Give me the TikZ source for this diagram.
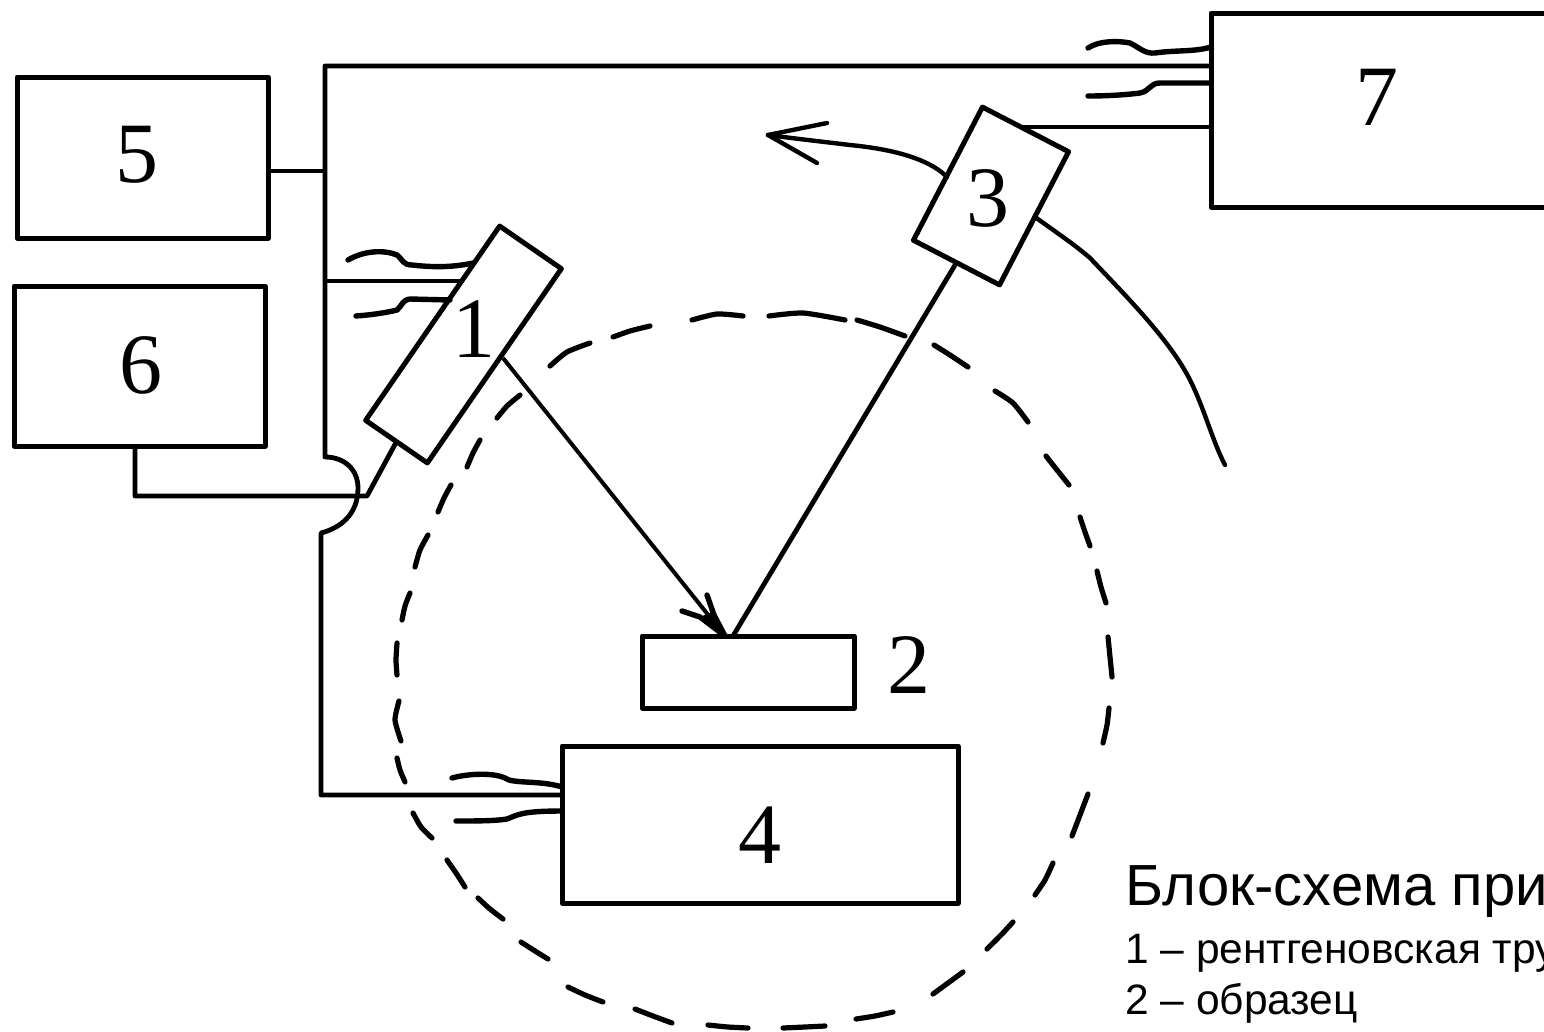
\documentclass[tikz,border=0pt]{standalone}
\usepackage{fontspec}
\setmainfont{Liberation Serif}
\newfontfamily\capfont{Liberation Sans}
\tikzset{
  box/.style={draw=black,line width=5pt,fill=none,rectangle,inner sep=0pt,outer sep=0pt,line join=round},
  wire/.style={draw=black,line width=4.8pt,line join=round},
  thin wire/.style={draw=black,line width=4pt,line join=round},
  curl/.style={draw=black,line width=5.4pt,line cap=round,line join=round},
  sweep/.style={draw=black,line width=4.4pt,line cap=round,line join=round},
  num/.style={inner sep=0pt,font=\fontsize{86}{90}\selectfont,text=black},
  circdash/.style={draw=black,line width=5.2pt,line cap=round,line join=round},
  bigcap/.style={inner sep=0pt,anchor=base west,font=\capfont\fontsize{58}{62}\selectfont},
  smallcap/.style={inner sep=0pt,anchor=base west,font=\capfont\fontsize{42.5}{46}\selectfont}
}
\begin{document}
\begin{tikzpicture}[x=1pt,y=-1pt]
\useasboundingbox (0,0) rectangle (1544,1031);
\clip (0,0) rectangle (1544,1031);
% boxes
\node[box,minimum width=251pt,minimum height=161pt] (b5) at (142.5,157.5) {};
\node[box,minimum width=251pt,minimum height=160pt] (b6) at (139.5,366) {};
\node[box,minimum width=400pt,minimum height=194pt] (b7) at (1411,110) {};
\node[box,minimum width=396pt,minimum height=157pt] (b4) at (760,824.5) {};
\node[box,minimum width=212pt,minimum height=72pt] (b2) at (748,672) {};
\node[box,minimum width=236pt,minimum height=75pt,rotate=55.4] (b1) at (463.5,344.5) {};
\node[box,minimum width=150pt,minimum height=97pt,rotate=62.6] (b3) at (991,196) {};
% labels
\node[num] (l5) at (137,155) {5};
\node[num] (l6) at (141,365) {6};
\node[num] (l7) at (1377,97) {7};
\node[num] (l4) at (760,835) {4};
\node[num] (l2) at (909,665) {2};
\node[num] (l1) at (474,329) {1};
\node[num] (l3) at (988,198) {3};
% dashed circle, dash by dash as drawn by hand
\foreach \pts in {
 {(397,675) (396,660) (397,643)},
 {(402,620) (405,606) (410,593)},
 {(415,567) (420,550) (428,535)},
 {(438,512) (444,498) (451,485)},
 {(467,467) (473,453) (480,440)},
 {(497,418) (507,406) (520,395)},
 {(550,366) (567,352) (590,343)},
 {(613,337) (630,331) (650,326)},
 {(692,320) (717,314) (743,316)},
 {(769,316) (803,313) (845,320)},
 {(857,320) (880,327) (905,336)},
 {(934,345) (950,355) (968,367)},
 {(995,391) (1013,403) (1028,422)},
 {(1046,456) (1057,470) (1069,485)},
 {(1080,517) (1085,532) (1090,546)},
 {(1097,571) (1101,587) (1106,603)},
 {(1108,637) (1110,657) (1112,677)},
 {(1109,708) (1107,725) (1103,743)},
 {(1088,794) (1080,815) (1072,836)},
 {(1053,863) (1045,880) (1035,895)},
 {(1013,922) (1001,935) (987,949)},
 {(963,972) (948,983) (933,994)},
 {(893,1012) (875,1016) (856,1019)},
 {(825,1026) (805,1027) (783,1028)},
 {(748,1028) (728,1027) (708,1025)},
 {(672,1023) (653,1016) (635,1009)},
 {(603,1002) (585,995) (568,987)},
 {(548,959) (535,951) (521,942)},
 {(503,919) (490,909) (478,898)},
 {(465,887) (456,873) (447,860)},
 {(432,838) (421,827) (413,813)},
 {(405,782) (400,770) (397,758)},
 {(401,741) (395,720) (399,701)}}
{ \draw[circdash] plot[smooth,tension=0.4] coordinates {\pts}; }
% helper coordinates
\coordinate (busT) at (325,66);
\coordinate (j5) at (325,171);
\coordinate (j1) at (325,281);
\coordinate (bumpA) at (325,457);
\coordinate (bumpB) at (321,533);
\coordinate (busB) at (321,795);
\coordinate (k6) at (135,496);
\coordinate (k1) at (367,496);
\coordinate (a3) at (1023,127);
\coordinate (e1) at (503,358);
\coordinate (hit) at (725,636);
\coordinate (hit3) at (733,636);
% bus
\draw[wire] (b7.west |- busT) -- (busT) -- (bumpA)
  .. controls (345,457) and (358,470) .. (358,488)
  .. controls (358,515) and (340,528) .. (bumpB) -- (busB) -- (b4.west |- busB);
\draw[wire] (b5.east |- j5) -- (j5);
\draw[wire] (j1) -- (463,281);
\draw[wire] (b6.south -| k6) -- (k6) -- (k1) -- (b1.west);
\draw[wire] (b7.west |- a3) -- (a3);
% beams
\draw[thin wire] (e1) -- (hit);
\draw[curl] (707,595) -- (714,615) -- (hit);
\draw[curl] (682,611) -- (700,617) -- (hit);
\fill (712,612) -- (hit) -- (700,617) -- cycle;
\draw[wire] (b3.west) -- (hit3);
% curls
\draw[curl] (348,260) .. controls (365,250) and (385,250) .. (397,255)
  .. controls (403,260) and (403,265) .. (412,265)
  .. controls (430,267) and (450,268) .. (473,263);
\draw[curl] (356,316) .. controls (370,315) and (385,313) .. (397,310)
  .. controls (402,306) and (402,300) .. (410,299) -- (450,300);
\draw[curl] (1088,48) .. controls (1100,40) and (1120,41) .. (1130,43)
  .. controls (1140,48) and (1145,54) .. (1155,53)
  .. controls (1175,50) and (1195,52) .. (1211,47);
\draw[curl] (1088,96) .. controls (1105,96) and (1125,95) .. (1140,93)
  .. controls (1150,91) and (1150,83) .. (1160,83) -- (1211,83);
\draw[curl] (452,778) .. controls (470,773) and (495,773) .. (505,778)
  .. controls (512,784) and (540,780) .. (562,787);
\draw[curl] (456,821) .. controls (475,821) and (495,821) .. (507,819)
  .. controls (518,815) and (520,811) .. (562,811);
% sweep arcs
\draw[sweep] (947,177) .. controls (925,155) and (880,148) .. (850,145)
  .. controls (825,142) and (790,138) .. (768,135);
\draw[sweep] (768,135) -- (827,123);
\draw[sweep] (768,135) -- (817,163);
\draw[sweep] (1035,217) .. controls (1060,235) and (1075,245) .. (1090,258)
  .. controls (1125,295) and (1170,340) .. (1190,380)
  .. controls (1205,410) and (1212,440) .. (1225,465);
% caption
\node[bigcap] (t1) at (1125,905) {Блок-схема при};
\node[smallcap] (t2) at (1125,963) {1 – рентгеновская тру};
\node[smallcap] (t3) at (1125,1014) {2 – образец};
\end{tikzpicture}
\end{document}
